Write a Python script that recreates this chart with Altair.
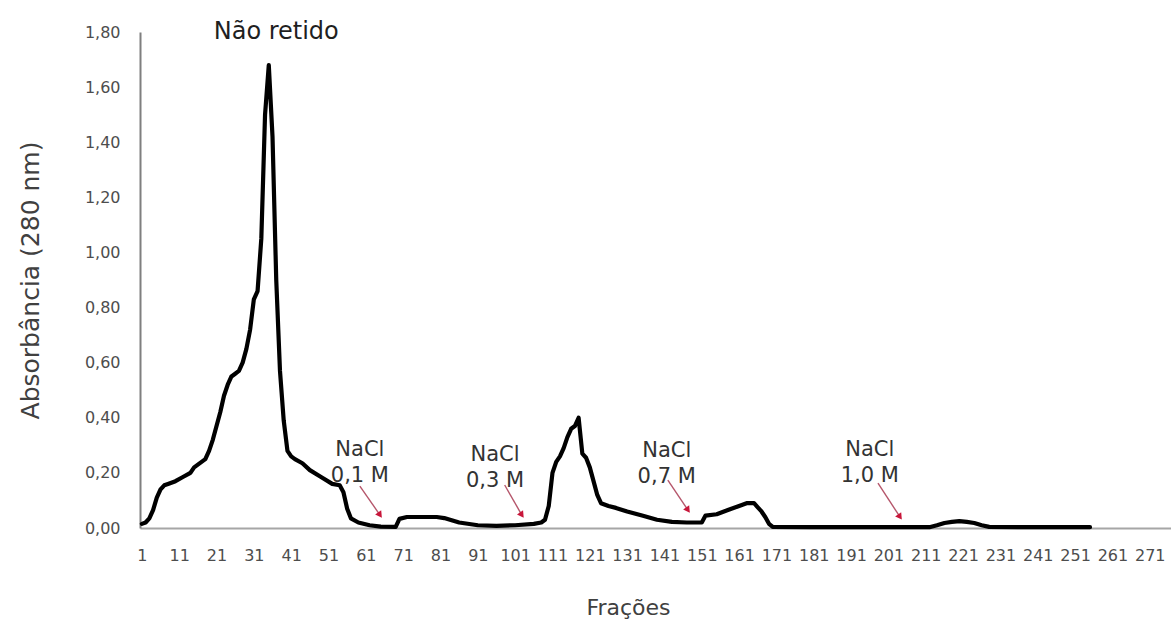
import altair as alt
import pandas as pd

# Absorbance (280 nm) read per fraction along the elution profile
fractions = [1, 2, 3, 4, 5, 6, 7, 8, 10, 12, 14, 15, 17, 18, 19, 20,
             21, 22, 23, 24, 25, 26, 27, 28, 29, 30, 31, 32, 33, 34, 35, 36, 37, 38, 39, 40, 41, 42,
             44, 46, 49, 52, 54, 55, 56, 57, 59, 62, 65, 69, 70, 72, 76, 80, 82, 86, 91, 96, 101, 106, 108, 109,
             110, 111, 112, 113, 114, 115, 116, 117, 118, 119, 120, 121, 122, 123, 124,
             126, 128, 131, 135, 139, 143, 147, 151, 152, 155, 158, 161, 163, 165, 166, 167, 168, 169, 170,
             180, 190, 200, 212, 214, 216, 218, 220, 222, 224, 226, 228, 240, 255]
absorbance = [0.015, 0.02, 0.035, 0.065, 0.11, 0.14, 0.155, 0.16, 0.17, 0.185, 0.20, 0.22, 0.24, 0.25, 0.28, 0.32,
              0.37, 0.42, 0.48, 0.52, 0.55, 0.56, 0.57, 0.60, 0.65, 0.72, 0.83, 0.86, 1.05, 1.50, 1.68, 1.42, 0.90, 0.57, 0.39, 0.28, 0.26, 0.25,
              0.235, 0.21, 0.185, 0.16, 0.155, 0.13, 0.07, 0.035, 0.02, 0.01, 0.005, 0.004, 0.033, 0.04, 0.04, 0.04, 0.036, 0.02, 0.01, 0.008, 0.01, 0.015, 0.02, 0.03,
              0.08, 0.20, 0.24, 0.26, 0.29, 0.33, 0.36, 0.37, 0.40, 0.27, 0.255, 0.22, 0.17, 0.12, 0.09,
              0.08, 0.073, 0.06, 0.045, 0.03, 0.022, 0.02, 0.02, 0.045, 0.05, 0.065, 0.08, 0.09, 0.09, 0.075, 0.06, 0.04, 0.015, 0.004,
              0.003, 0.003, 0.003, 0.003, 0.01, 0.018, 0.022, 0.025, 0.022, 0.018, 0.01, 0.004, 0.003, 0.003]

x_ticks = list(range(1, 272, 10))
y_ticks = [0.0, 0.2, 0.4, 0.6, 0.8, 1.0, 1.2, 1.4, 1.6, 1.8]

# Salt step annotations (text block and arrow, in data coordinates)
step_labels = ["NaCl\n0,1 M", "NaCl\n0,3 M", "NaCl\n0,7 M", "NaCl\n1,0 M"]
label_frac = [59.4, 95.6, 141.6, 196.0]
label_abs = [0.283, 0.265, 0.28, 0.283]
arrow_from_frac = [59.4, 98.2, 141.9, 198.2]
arrow_from_abs = [0.152, 0.156, 0.174, 0.163]
arrow_to_frac = [64.8, 102.8, 147.3, 204.1]
arrow_to_abs = [0.047, 0.047, 0.065, 0.04]

peak_label = "Não retido"
peak_label_frac = 37.0
peak_label_abs = 1.80

FONT = "DejaVu Sans"

# every layer uses the same field names so that the axes are shared
profile = pd.DataFrame({"frac": fractions, "abs": absorbance})
step_text_df = pd.DataFrame({"label": step_labels, "frac": label_frac, "abs": label_abs})
arrow_df = pd.DataFrame({
    "frac": arrow_from_frac, "abs": arrow_from_abs,
    "frac_end": arrow_to_frac, "abs_end": arrow_to_abs,
})
head_df = pd.DataFrame({"frac": arrow_to_frac, "abs": arrow_to_abs})
peak_df = pd.DataFrame({"label": [peak_label], "frac": [peak_label_frac], "abs": [peak_label_abs]})

x_scale = alt.Scale(domain=[0.5, 276.7], nice=False, zero=False)
y_scale = alt.Scale(domain=[0, 1.8], nice=False)

x_enc = alt.X("frac:Q", scale=x_scale, axis=alt.Axis(
    values=x_ticks, format="d", ticks=False, grid=False,
    domainColor="#a6a6a6", domainWidth=2,
    labelFont=FONT, labelFontSize=16, labelColor="#4d4d4d",
    labelPadding=19, labelFlush=False, labelOverlap=False,
    title="Frações", titleFont=FONT, titleFontSize=22, titleFontWeight="normal",
    titleColor="#404040", titleX=488, titleY=79, titleAlign="center",
    titleBaseline="middle",
))
y_enc = alt.Y("abs:Q", scale=y_scale, axis=alt.Axis(
    values=y_ticks, labelExpr="replace(format(datum.value, '.2f'), '.', ',')",
    ticks=False, grid=False, domainColor="#7f7f7f", domainWidth=2,
    labelFont=FONT, labelFontSize=16, labelColor="#4d4d4d", labelPadding=20,
    title="Absorbância (280 nm)", titleFont=FONT, titleFontSize=25,
    titleFontWeight="normal", titleColor="#404040", titleAngle=270,
    titleX=-110, titleY=248, titleAlign="center", titleBaseline="middle",
))

line = alt.Chart(profile).mark_line(
    color="black", strokeWidth=4.2, strokeJoin="round", strokeCap="round"
).encode(x=x_enc, y=y_enc)

arrows = alt.Chart(arrow_df).mark_rule(color="#b5566b", strokeWidth=1.4).encode(
    x=x_enc, y=y_enc, x2="frac_end:Q", y2="abs_end:Q",
)

heads = alt.Chart(head_df).mark_point(
    shape="triangle-up", filled=True, size=55, angle=145, color="#c8163a", opacity=1
).encode(x=x_enc, y=y_enc)

step_text = alt.Chart(step_text_df).mark_text(
    font=FONT, fontSize=21, lineBreak="\n", lineHeight=26,
    color="#333333", align="center", baseline="middle"
).encode(x=x_enc, y=y_enc, text="label:N")

peak_text = alt.Chart(peak_df).mark_text(
    font=FONT, fontSize=24, color="#1f1f1f", align="center", baseline="middle"
).encode(x=x_enc, y=y_enc, text="label:N")

chart = alt.layer(line, arrows, heads, step_text, peak_text).properties(
    width=1031,
    height=496,
    autosize=alt.AutoSizeParams(type="none"),
    padding={"left": 140, "top": 32, "right": 0, "bottom": 96},
    background="white",
).configure_view(stroke=None)

chart.save("out.html", embed_options={"renderer": "svg", "actions": False})
